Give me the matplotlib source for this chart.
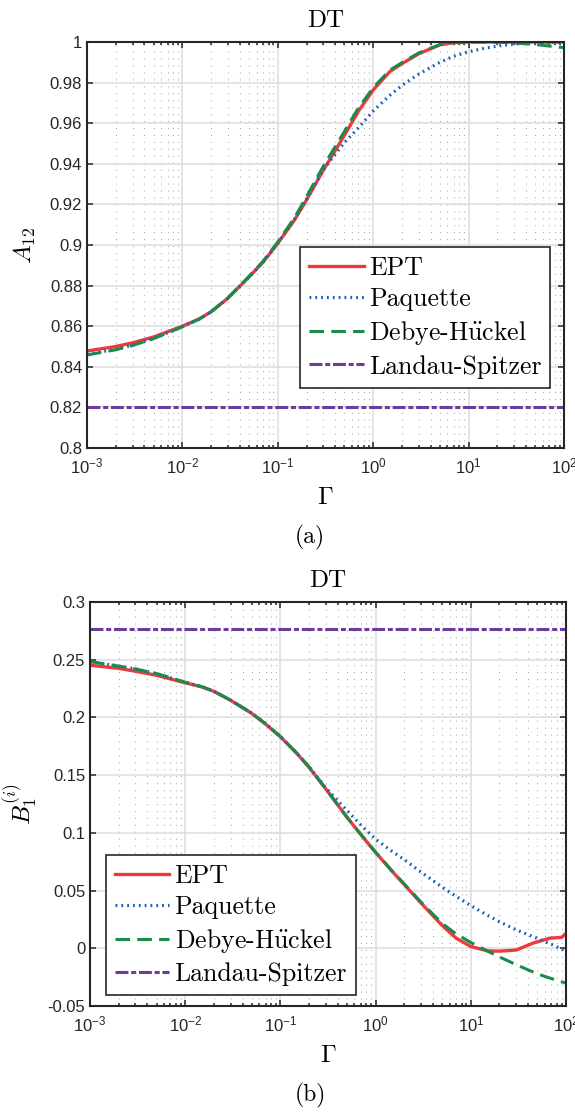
import math
import matplotlib
matplotlib.use("Agg")
import matplotlib.pyplot as plt
from matplotlib.ticker import LogLocator, FixedLocator, FuncFormatter, NullFormatter

plt.rcParams['font.family'] = ['Liberation Sans', 'DejaVu Sans']
plt.rcParams['mathtext.fontset'] = 'cm'
plt.rcParams['axes.unicode_minus'] = False
plt.rcParams['lines.scale_dashes'] = False

# shared coupling grid
gamma = [0.001, 0.002, 0.003, 0.005, 0.01, 0.015, 0.02, 0.03, 0.05, 0.07, 0.1,
         0.15, 0.2, 0.3, 0.5, 0.7, 1, 1.5, 2, 3, 5, 7, 10, 15, 20, 30, 50, 70, 100]

# (a) A12
a_ept = [0.8478, 0.8500, 0.8518, 0.8547, 0.8600, 0.8636, 0.8671, 0.8738, 0.8843, 0.8915, 0.9008,
         0.9124, 0.9222, 0.9368, 0.9541, 0.9659, 0.9764, 0.9855, 0.9893, 0.9942, 0.9986,
         0.9997, 1.0, 1.0, 1.0, 1.0, 1.0, 1.0, 1.0]
a_paq = [0.8462, 0.8486, 0.8507, 0.8540, 0.8598, 0.8635, 0.8671, 0.8738, 0.8843, 0.8916, 0.9010,
         0.9128, 0.9225, 0.9372, 0.9505, 0.9577, 0.9660, 0.9738, 0.9786, 0.9842, 0.9900,
         0.9930, 0.9952, 0.9970, 0.9980, 0.9990, 0.9997, 0.9999, 1.0]
a_dh = [0.8458, 0.8484, 0.8505, 0.8539, 0.8597, 0.8635, 0.8671, 0.8740, 0.8846, 0.8920, 0.9015,
        0.9135, 0.9238, 0.9388, 0.9560, 0.9675, 0.9775, 0.9862, 0.9898, 0.9946, 0.9987,
        0.9997, 1.0, 1.0, 1.0, 0.9995, 0.9988, 0.9980, 0.9972]
a_ls = 0.82

# (b) B1^(i)
gamma_b_ept = [0.001, 0.002, 0.003, 0.005, 0.01, 0.015, 0.02, 0.03, 0.05, 0.07, 0.1,
               0.15, 0.2, 0.3, 0.5, 0.7, 1, 1.5, 2, 3, 5, 7, 10, 15, 20, 30, 45, 68, 90, 100]
b_ept = [0.2452, 0.2425, 0.2400, 0.2365, 0.2300, 0.2264, 0.2226, 0.2148, 0.2035, 0.1942, 0.1832,
         0.1685, 0.1568, 0.1380, 0.1135, 0.0985, 0.0830, 0.0665, 0.0552, 0.0392, 0.0198,
         0.0088, 0.0015, -0.0022, -0.0025, -0.0015, 0.0045, 0.0088, 0.0094, 0.0130]
b_paq = [0.2483, 0.2445, 0.2420, 0.2380, 0.2305, 0.2266, 0.2227, 0.2150, 0.2037, 0.1945, 0.1835,
         0.1688, 0.1572, 0.1390, 0.1195, 0.1068, 0.0945, 0.0838, 0.0768, 0.0660, 0.0530,
         0.0450, 0.0370, 0.0285, 0.0230, 0.0160, 0.0085, 0.0035, -0.0025]
b_dh = [0.2483, 0.2445, 0.2420, 0.2380, 0.2305, 0.2266, 0.2227, 0.2150, 0.2037, 0.1945, 0.1835,
        0.1688, 0.1571, 0.1382, 0.1137, 0.0987, 0.0832, 0.0668, 0.0557, 0.0400, 0.0215,
        0.0125, 0.0050, -0.0025, -0.0075, -0.0142, -0.0222, -0.0262, -0.0302]
b_ls = 0.2765

labels = ['EPT', 'Paquette', r'Debye-H$\ddot{\rm u}$ckel', 'Landau-Spitzer']

red, blue, green, purple = '#ee3a3e', '#1f5fb2', '#1a8b4b', '#6a3c9e'
ink = '#262626'
serif = ['cmr10', 'DejaVu Serif']


def style_axes(ax, ymin, ymax, yticks):
    ax.set_xscale('log')
    ax.set_xlim(1e-3, 1e2)
    ax.set_ylim(ymin, ymax)
    ax.xaxis.set_major_locator(LogLocator(base=10, numticks=10))
    ax.xaxis.set_minor_locator(LogLocator(base=10, subs=range(2, 10), numticks=20))
    ax.xaxis.set_minor_formatter(NullFormatter())
    ax.xaxis.set_major_formatter(FuncFormatter(
        lambda v, p: r'$\mathdefault{10^{%d}}$' % round(math.log10(v))))
    ax.yaxis.set_major_locator(FixedLocator(yticks))
    ax.yaxis.set_major_formatter(FuncFormatter(lambda v, p: '%g' % round(v, 4)))
    ax.grid(which='major', color='#dcdcdc', lw=1.1, ls='-')
    ax.grid(which='minor', axis='x', color='#b0b0b0', lw=0.8, ls=(0, (0.8, 4.2)))
    ax.set_axisbelow(True)
    ax.tick_params(which='both', direction='in', top=True, right=True, colors=ink,
                   labelsize=12, width=1.1)
    ax.tick_params(which='major', length=4)
    ax.tick_params(which='minor', length=2.5)
    ax.tick_params(axis='x', pad=6)
    for s in ax.spines.values():
        s.set_color(ink)
        s.set_linewidth(1.5)
    ax.set_title('DT', family=serif, fontsize=18, pad=11)


def draw(ax, gx, ept, paq, dh, ls, gept=None):
    ax.plot(gept if gept is not None else gx, ept, color=red, lw=2.4, label=labels[0])
    ax.plot(gx, paq, color=blue, lw=2.3, ls=(0, (1.3, 2.9)), label=labels[1])
    ax.plot(gx, dh, color=green, lw=2.2, ls=(0, (10.5, 5.2)), label=labels[2])
    ax.axhline(ls, color=purple, lw=2.2, ls=(0, (9.3, 2.0, 3.6, 2.0)), label=labels[3])


fig = plt.figure(figsize=(5.75, 11.12), dpi=100)

ax1 = fig.add_axes([87 / 575, 1 - 448 / 1112, 477 / 575, 406 / 1112])
draw(ax1, gamma, a_ept, a_paq, a_dh, a_ls)
style_axes(ax1, 0.8, 1.0, [0.8, 0.82, 0.84, 0.86, 0.88, 0.9, 0.92, 0.94, 0.96, 0.98, 1.0])
ax1.set_ylabel(r'$A_{12}$', fontsize=18)
ax1.set_xlabel(r'$\Gamma$', fontsize=18)
ax1.yaxis.set_label_coords(-0.103, 0.5)
ax1.xaxis.set_label_coords(0.5, -0.091)

ax2 = fig.add_axes([90 / 575, 1 - 1006 / 1112, 476 / 575, 404 / 1112])
draw(ax2, gamma, b_ept, b_paq, b_dh, b_ls, gept=gamma_b_ept)
style_axes(ax2, -0.05, 0.3, [-0.05, 0, 0.05, 0.1, 0.15, 0.2, 0.25, 0.3])
ax2.set_ylabel(r'$B_1^{(i)}$', fontsize=18)
ax2.set_xlabel(r'$\Gamma$', fontsize=18)
ax2.yaxis.set_label_coords(-0.104, 0.5)
ax2.xaxis.set_label_coords(0.5, -0.092)

leg_kw = dict(prop={'family': serif, 'size': 18.6}, fancybox=False, framealpha=1,
              edgecolor=ink, handlelength=2.1, handletextpad=0.2, borderpad=0.35,
              labelspacing=0.3, borderaxespad=0)
leg1 = ax1.legend(loc='upper left', bbox_to_anchor=(0.447, 0.495), **leg_kw)
leg2 = ax2.legend(loc='upper left', bbox_to_anchor=(0.034, 0.374), **leg_kw)
for lg in (leg1, leg2):
    lg.get_frame().set_linewidth(1.2)

fig.text(310 / 575, 1 - 537 / 1112, '(a)', family=serif, fontsize=17, ha='center', va='center')
fig.text(310 / 575, 1 - 1095 / 1112, '(b)', family=serif, fontsize=17, ha='center', va='center')

fig.savefig('out.png', dpi=100)
